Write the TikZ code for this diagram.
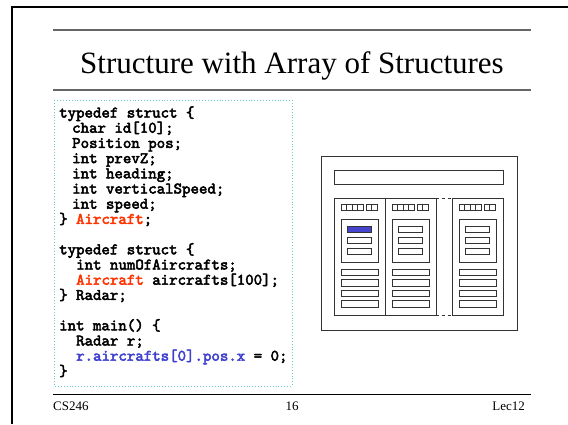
\documentclass[tikz,border=0pt]{standalone}
\usepackage{fontspec}
\setmainfont{Liberation Serif}
\newfontfamily\codefont{lmmono10-regular.otf}[FakeBold=3]
\definecolor{codered}{RGB}{255,51,0}
\definecolor{codeblue}{RGB}{64,64,208}
\definecolor{dotbox}{RGB}{102,204,204}
\definecolor{cellblue}{RGB}{68,68,204}
\tikzset{
  frameline/.style={line width=2pt, black},
  rulegray/.style={line width=1.5pt, black!60},
  rulefoot/.style={line width=1pt, black},
  codebox/.style={draw=dotbox, dotted, line width=0.9pt},
  codeline/.style={anchor=base west, inner sep=0pt,
    font=\codefont\bfseries\fontsize{16.1}{15.2}\selectfont},
  memobox/.style={draw=black!80, line width=0.8pt},
  cellbox/.style={draw=black!80, line width=0.6pt},
  foot/.style={inner sep=0pt, font=\fontsize{13}{15}\selectfont}
}
\begin{document}
\begin{tikzpicture}[x=1pt, y=-1pt]
  \useasboundingbox (0,0) rectangle (568,424);
  % slide frame and rules
  \draw[frameline] (11.5,424) -- (11.5,7) -- (568,7);
  \draw[rulegray] (53,30) -- (531,30);
  \draw[rulegray] (53,90) -- (531,90);
  \draw[rulefoot] (53,394) -- (531,394);
  \node[anchor=base, inner sep=0pt, font=\fontsize{31}{36}\selectfont] (title) at (292,73)
    {Structure with Array of Structures};

  % code listing
  \draw[codebox] (54,100) rectangle (292,386);
  \def\bl#1{117.5+15.2*#1}
  \node[codeline] (c0)  at (59,{\bl{0}})  {typedef struct \{};
  \node[codeline] (c1)  at (72,{\bl{1}})  {char id[10];};
  \node[codeline] (c2)  at (72,{\bl{2}})  {Position pos;};
  \node[codeline] (c3)  at (72,{\bl{3}})  {int prevZ;};
  \node[codeline] (c4)  at (72,{\bl{4}})  {int heading;};
  \node[codeline] (c5)  at (72,{\bl{5}})  {int verticalSpeed;};
  \node[codeline] (c6)  at (72,{\bl{6}})  {int speed;};
  \node[codeline] (c7)  at (59,{\bl{7}})  {\} \textcolor{codered}{Aircraft};};
  \node[codeline] (c9)  at (59,{\bl{9}})  {typedef struct \{};
  \node[codeline] (c10) at (76,{\bl{10}}) {int numOfAircrafts;};
  \node[codeline] (c11) at (76,{\bl{11}}) {\textcolor{codered}{Aircraft} aircrafts[100];};
  \node[codeline] (c12) at (59,{\bl{12}}) {\} Radar;};
  \node[codeline] (c14) at (59,{\bl{14}}) {int main() \{};
  \node[codeline] (c15) at (76,{\bl{15}}) {Radar r;};
  \node[codeline] (c16) at (76,{\bl{16}}) {\textcolor{codeblue}{r.aircrafts[0].pos.x} = 0;};
  \node[codeline] (c17) at (59,{\bl{17}}) {\}};

  % memory layout of a Radar
  \draw[memobox] (321,156) rectangle (517,330);
  \draw[memobox] (334,170) rectangle (503,184);
  \foreach \L in {334,385,452} {
    \begin{scope}[shift={(\L,0)}]
      \draw[memobox] (0,198) rectangle (51,315);
      % char id[10]: leading cells, gap, trailing cells
      \foreach \i in {0,1,2,3}
        \draw[cellbox] (7+\i*5.5,204) rectangle ++(5.5,6.5);
      \foreach \i in {0,1}
        \draw[cellbox] (32+\i*5.5,204) rectangle ++(5.5,6.5);
      % Position pos
      \draw[memobox] (7,219) rectangle (44,262);
      \foreach \j in {0,1,2}
        \draw[memobox] (13.5,226+11*\j) rectangle ++(24,6.5);
      % remaining int fields
      \foreach \k in {0,1,2,3}
        \draw[memobox] (7,269+10.5*\k) rectangle ++(37,6.5);
    \end{scope}
  }
  \fill[cellblue] (347.5,226) rectangle ++(24,6.5);
  \draw[memobox] (347.5,226) rectangle ++(24,6.5);
  \draw[memobox, dashed] (436,198) -- (452,198);
  \draw[memobox, dashed] (436,315) -- (452,315);

  % footer
  \node[foot, anchor=base west] (fl) at (53,410) {CS246};
  \node[foot, anchor=base] (fc) at (292,410) {16};
  \node[foot, anchor=base east] (fr) at (525,410) {Lec12};
\end{tikzpicture}
\end{document}
